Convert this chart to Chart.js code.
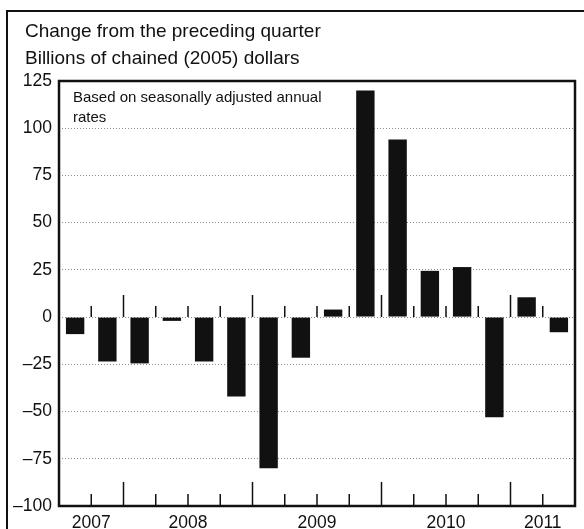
<!DOCTYPE html>
<html>
<head>
<meta charset="utf-8">
<script src="https://cdn.jsdelivr.net/npm/chart.js@4/dist/chart.umd.min.js"></script>
<style>
  html, body { margin: 0; padding: 0; background: #fff; }
  #wrap { position: relative; width: 584px; height: 529px; }
</style>
</head>
<body>
<div id="wrap"><canvas id="c" width="584" height="529"></canvas></div>
<script>
// ---- data ----
const quarters = ['2007 Q3','2007 Q4','2008 Q1','2008 Q2','2008 Q3','2008 Q4',
                  '2009 Q1','2009 Q2','2009 Q3','2009 Q4','2010 Q1','2010 Q2',
                  '2010 Q3','2010 Q4','2011 Q1','2011 Q2'];
const changes = [-9, -23.5, -24.5, -2, -23.5, -42, -80, -21.5, 4, 120, 94, 24.5, 26.5, -53, 10.5, -8];
const years = ['2007','2008','2009','2010','2011'];
const yTicks = [-100, -75, -50, -25, 0, 25, 50, 75, 100, 125];
const titleLines = ['Change from the preceding quarter', 'Billions of chained (2005) dollars'];
const noteLines = ['Based on seasonally adjusted annual', 'rates'];

// index range of each year's quarters
function yearIndex(y) {
  const idx = [];
  quarters.forEach((q, i) => { if (q.startsWith(y)) idx.push(i); });
  return idx;
}
const yearCenters = years.map(y => { const ix = yearIndex(y); return (ix[0] + ix[ix.length - 1]) / 2; });

const FONT = "'Liberation Sans', Arial, Helvetica, sans-serif";

const decor = {
  id: 'decor',
  beforeDraw(chart) {
    const ctx = chart.ctx;
    ctx.save();
    ctx.fillStyle = '#fff';
    ctx.fillRect(0, 0, chart.width, chart.height);
    // outer frame (left and top)
    ctx.strokeStyle = '#111';
    ctx.lineWidth = 2;
    ctx.beginPath();
    ctx.moveTo(7, chart.height);
    ctx.lineTo(7, 11);
    ctx.lineTo(chart.width, 11);
    ctx.stroke();
    // title lines
    ctx.fillStyle = '#111';
    ctx.font = '19px ' + FONT;
    ctx.textBaseline = 'alphabetic';
    ctx.textAlign = 'left';
    titleLines.forEach((t, i) => ctx.fillText(t, 25, 37 + i * 27));
    ctx.restore();
  },
  afterDatasetsDraw(chart) {
    const ctx = chart.ctx;
    const xs = chart.scales.x, ys = chart.scales.y;
    const a = chart.chartArea;
    ctx.save();
    // quarter boundary tick marks at zero line and bottom axis
    ctx.strokeStyle = '#111';
    ctx.lineWidth = 1.5;
    const y0 = ys.getPixelForValue(0);
    for (let i = 0; i < quarters.length - 1; i++) {
      const major = quarters[i].slice(0, 4) !== quarters[i + 1].slice(0, 4);
      const xp = (xs.getPixelForValue(i) + xs.getPixelForValue(i + 1)) / 2;
      ctx.beginPath();
      ctx.moveTo(xp, y0);
      ctx.lineTo(xp, y0 - (major ? 22 : 11));
      ctx.moveTo(xp, a.bottom);
      ctx.lineTo(xp, a.bottom - (major ? 24 : 12));
      ctx.stroke();
    }
    // plot frame
    ctx.lineWidth = 2.5;
    ctx.strokeRect(a.left, a.top, a.right - a.left, a.bottom - a.top);
    // note text
    ctx.fillStyle = '#111';
    ctx.font = '15px ' + FONT;
    ctx.textBaseline = 'top';
    ctx.textAlign = 'left';
    noteLines.forEach((t, i) => ctx.fillText(t, a.left + 14, a.top + 9 + i * 20));
    ctx.restore();
  }
};

new Chart(document.getElementById('c'), {
  type: 'bar',
  data: {
    labels: quarters,
    datasets: [{
      data: changes,
      backgroundColor: '#111',
      borderWidth: 0,
      barPercentage: 0.57,
      categoryPercentage: 1.0
    }]
  },
  options: {
    responsive: false,
    animation: false,
    devicePixelRatio: 1,
    layout: { padding: { left: 8, right: 9, top: 81, bottom: 0 } },
    plugins: {
      legend: { display: false },
      tooltip: { enabled: false },
      title: { display: false }
    },
    scales: {
      x: { display: false, offset: true },
      years: {
        type: 'linear',
        position: 'bottom',
        offset: false,
        min: -0.5,
        max: quarters.length - 0.5,
        afterBuildTicks: (axis) => { axis.ticks = yearCenters.map(v => ({ value: v })); },
        afterFit: (axis) => { axis.height = 23; },
        grid: { display: false, drawTicks: false, offset: false },
        border: { display: false },
        ticks: {
          autoSkip: false,
          maxRotation: 0,
          padding: 7,
          color: '#111',
          font: { family: FONT, size: 17.5 },
          callback: (v) => { const k = yearCenters.indexOf(v); return k >= 0 ? years[k] : ''; }
        }
      },
      y: {
        min: yTicks[0],
        max: yTicks[yTicks.length - 1],
        afterBuildTicks: (axis) => { axis.ticks = yTicks.map(v => ({ value: v })); },
        afterFit: (axis) => { axis.width = 51; },
        grid: { color: '#8a8a8a', lineWidth: 1, drawTicks: false },
        border: { display: false, dash: [1, 2] },
        ticks: {
          padding: 7,
          color: '#111',
          font: { family: FONT, size: 17.5 },
          callback: (v) => v < 0 ? '\u2013' + Math.abs(v) : String(v)
        }
      }
    }
  },
  plugins: [decor]
});
</script>
</body>
</html>
